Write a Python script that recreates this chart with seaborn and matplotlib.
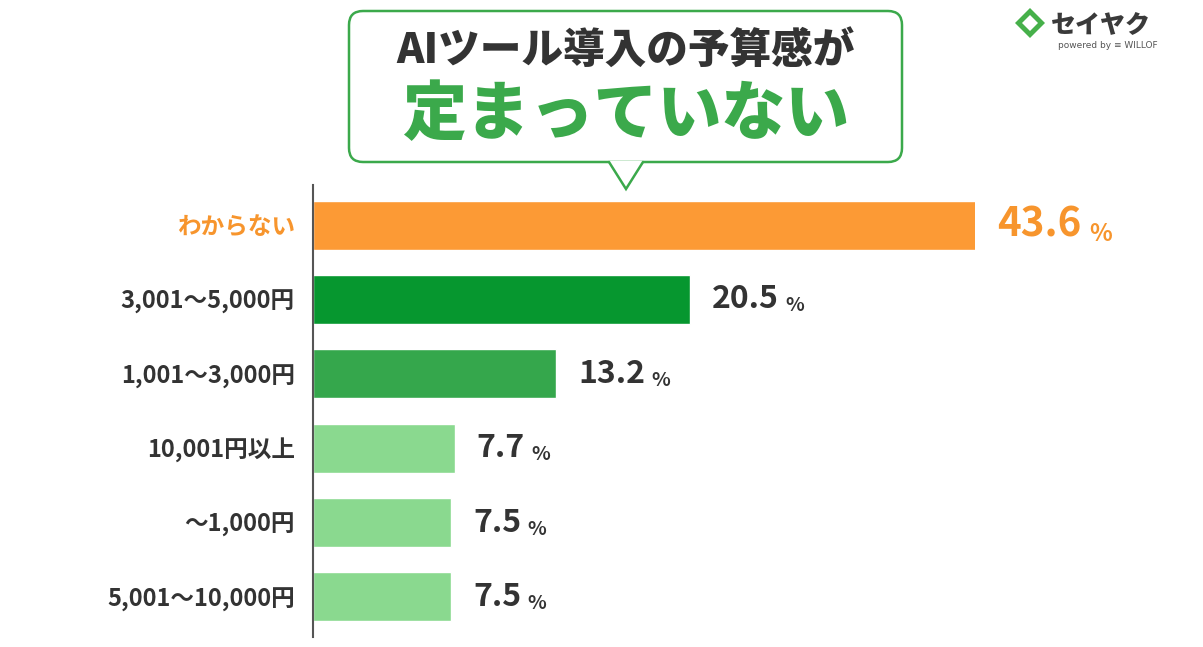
import matplotlib
matplotlib.use('Agg')
import matplotlib.pyplot as plt
import seaborn as sns
from matplotlib.patches import FancyBboxPatch, Polygon

# Data
categories = ['わからない', '3,001〜5,000円', '1,001〜3,000円', '10,001円以上', '〜1,000円', '5,001〜10,000円']
values = [43.6, 20.5, 13.2, 7.7, 7.5, 7.5]
bar_colors = ['#FC9A35', '#06972F', '#35A74C', '#8AD98F', '#8AD98F', '#8AD98F']
label_colors = ['#F7952D', '#333333', '#333333', '#333333', '#333333', '#333333']

sns.set_theme(style='white')
plt.rcParams['font.family'] = ['Noto Sans CJK JP', 'DejaVu Sans']

fig = plt.figure(figsize=(12.03, 6.47), dpi=100)
W, H = 1203, 647

# main bar axes (left edge = axis line)
ax = fig.add_axes([313 / W, (H - 637) / H, 662 / W, 452 / H])
sns.barplot(x=values, y=categories, hue=categories, palette=bar_colors,
            legend=False, width=0.66, orient='h', ax=ax, saturation=1)
xmax = 36.0
ax.set_xlim(0, xmax)
ax.set_ylim(5.54, -0.54)
sns.despine(ax=ax, top=True, right=True, bottom=True, left=False)
ax.spines['left'].set_color('#555555')
ax.spines['left'].set_linewidth(1.5)
ax.set_xticks([])
ax.set_xlabel('')
ax.set_ylabel('')
ax.tick_params(axis='y', length=0, pad=13)
for lab, c in zip(ax.get_yticklabels(), label_colors):
    lab.set_color(c)
    lab.set_fontsize(17)
    lab.set_fontweight('bold')

# value labels
num_texts = []
for i, v in enumerate(values):
    big = i == 0
    t = ax.annotate(f'{v}', xy=(min(v, xmax), i), xytext=(16, 0), textcoords='offset points',
                    va='center', ha='left', fontsize=29 if big else 23, fontweight='bold',
                    color=label_colors[i] if big else '#333333', annotation_clip=False)
    num_texts.append(t)

fig.canvas.draw()
r = fig.canvas.get_renderer()
for i, t in enumerate(num_texts):
    bb = t.get_window_extent(r)
    big = i == 0
    fig.text((bb.x1 + (8 if big else 6)) / W, bb.y0 / H, '%', ha='left', va='bottom',
             fontsize=17 if big else 14, fontweight='bold',
             color=label_colors[i] if big else '#333333')

# overlay for the speech bubble and logo
ov = fig.add_axes([0, 0, 1, 1], zorder=5)
ov.set_xlim(0, W)
ov.set_ylim(H, 0)
ov.axis('off')
ov.patch.set_alpha(0)

green = '#3BA94B'
box = FancyBboxPatch((349, 11), 553, 151, boxstyle='round,pad=0,rounding_size=14',
                     facecolor='white', edgecolor=green, linewidth=1.8)
ov.add_patch(box)
ov.add_patch(Polygon([(609, 161), (643, 161), (626, 189)], closed=True,
                     facecolor='white', edgecolor='none'))
ov.plot([609, 626, 643], [162, 189, 162], color=green, linewidth=1.8, solid_joinstyle='miter')

ov.text(626, 52, 'AIツール導入の予算感が', ha='center', va='center', fontsize=30,
        fontweight='heavy', color='#333333')
ov.text(626, 115, '定まっていない', ha='center', va='center', fontsize=46,
        fontweight='heavy', color=green)

# logo
ov.add_patch(Polygon([(1030, 8), (1045, 23), (1030, 38), (1015, 23)], closed=True,
                     facecolor='#46B04A', edgecolor='none'))
ov.add_patch(Polygon([(1030, 15), (1038, 23), (1030, 31), (1022, 23)], closed=True,
                     facecolor='white', edgecolor='none'))
ov.text(1051, 24, 'セイヤク', ha='left', va='center', fontsize=18, fontweight='heavy',
        color='#3a3a3a')
ov.text(1058, 45, 'powered by ≡ WILLOF', ha='left', va='center', fontsize=6.5,
        color='#555555', family=['DejaVu Sans'])

fig.savefig('out.png', dpi=100, facecolor='white')
